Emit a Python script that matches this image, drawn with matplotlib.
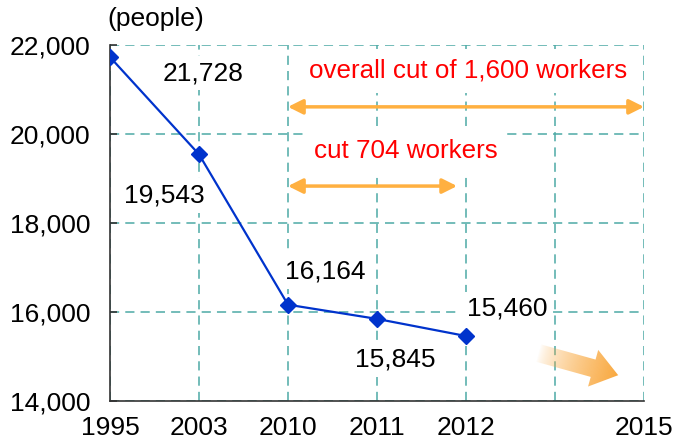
import numpy as np
import matplotlib
matplotlib.use("Agg")
import matplotlib.pyplot as plt
from matplotlib.patches import Polygon

plt.rcParams['font.family'] = ['Liberation Sans', 'DejaVu Sans']

# staff numbers per year
years = ['1995', '2003', '2010', '2011', '2012', '', '2015']
staff = [21728, 19543, 16164, 15845, 15460]
# where each value label sits relative to its point (offset points)
label_offsets = [(67, -11.5), (-25, -29.5), (27, 24), (13, -29.5), (29.5, 19.5)]

grid_col = '#4DAAA5'
line_col = '#0033CC'
arrow_col = '#FFB040'
fs = 19

fig = plt.figure(figsize=(6.73, 4.42), dpi=100)
ax = fig.add_axes([0.16345, 0.09276, 0.79346, 0.80543])

x = np.arange(len(staff))
ax.plot(x, staff, color=line_col, lw=1.6, marker='D', ms=8, zorder=4)

for xi, v, off in zip(x, staff, label_offsets):
    ax.annotate(f'{v:,}', xy=(xi, v), xytext=off, textcoords='offset points',
                ha='center', va='center', fontsize=fs, zorder=5,
                bbox=dict(boxstyle='square,pad=0.2', fc='white', ec='none'))

ax.set_xlim(0, 6)
ax.set_ylim(14000, 22000)
ax.set_xticks(range(len(years)))
ax.set_xticklabels(years)
ax.set_yticks(range(14000, 22001, 2000))
ax.yaxis.set_major_formatter(matplotlib.ticker.StrMethodFormatter('{x:,.0f}'))
ax.tick_params(axis='x', length=0, pad=10.5, labelsize=fs)
ax.tick_params(axis='y', direction='in', length=5, width=1.2, color='#333333',
               pad=14, labelsize=fs)

for s in ['top', 'right']:
    ax.spines[s].set_visible(False)
for s in ['left', 'bottom']:
    ax.spines[s].set_color('#333333')
    ax.spines[s].set_linewidth(1.2)

ax.set_axisbelow(True)
ax.grid(True, color=grid_col, lw=1.1, linestyle=(0, (6, 4)))

# reduction arrows and notes
ax.annotate('', xy=(6, 20610), xytext=(2, 20610),
            arrowprops=dict(arrowstyle='<|-|>', color=arrow_col, lw=2.5,
                            mutation_scale=22, shrinkA=0, shrinkB=0), zorder=3)
ax.annotate('', xy=(3.9, 18830), xytext=(2, 18830),
            arrowprops=dict(arrowstyle='<|-|>', color=arrow_col, lw=2.5,
                            mutation_scale=22, shrinkA=0, shrinkB=0), zorder=3)
ax.text(4.02, 21416, 'overall cut of 1,600 workers', color='red', fontsize=18.7,
        ha='center', va='center', zorder=5,
        bbox=dict(boxstyle='square,pad=0.4', fc='white', ec='none'))
ax.text(3.33, 19618, 'cut 704 workers', color='red', fontsize=18.7,
        ha='center', va='center', zorder=5,
        bbox=dict(boxstyle='square,pad=0.35', fc='white', ec='none'))

# fading trend arrow towards 2015
p0 = ax.transData.transform((4.81, 15080))
p1 = ax.transData.transform((5.71, 14580))
d = p1 - p0
L = np.hypot(*d)
u = d / L
n = np.array([-u[1], u[0]])
hl, sw, hw = 26, 9, 19
base = p1 - u * hl
pts = np.array([p0 + n * sw, base + n * sw, base + n * hw, p1,
                base - n * hw, base - n * sw, p0 - n * sw])
pts_data = ax.transData.inverted().transform(pts)
poly = Polygon(pts_data, closed=True, fc='none', ec='none')
ax.add_patch(poly)

xmin, ymin = pts_data.min(0)
xmax, ymax = pts_data.max(0)
gx, gy = np.meshgrid(np.linspace(xmin, xmax, 200), np.linspace(ymin, ymax, 100))
disp = ax.transData.transform(np.c_[gx.ravel(), gy.ravel()])
t = np.clip(((disp - p0) @ u) / L, 0, 1).reshape(gx.shape)
rgba = np.zeros(gx.shape + (4,))
rgba[..., :3] = matplotlib.colors.to_rgb('#F9A83E')
rgba[..., 3] = t ** 0.7
im = ax.imshow(rgba, extent=(xmin, xmax, ymin, ymax), origin='lower',
               aspect='auto', zorder=3, interpolation='bilinear')
im.set_clip_path(poly)
ax.set_xlim(0, 6)
ax.set_ylim(14000, 22000)

fig.text(107 / 673, 1 - 19 / 442, '(people)', fontsize=fs, ha='left', va='center')

fig.savefig('out.png', dpi=100)
